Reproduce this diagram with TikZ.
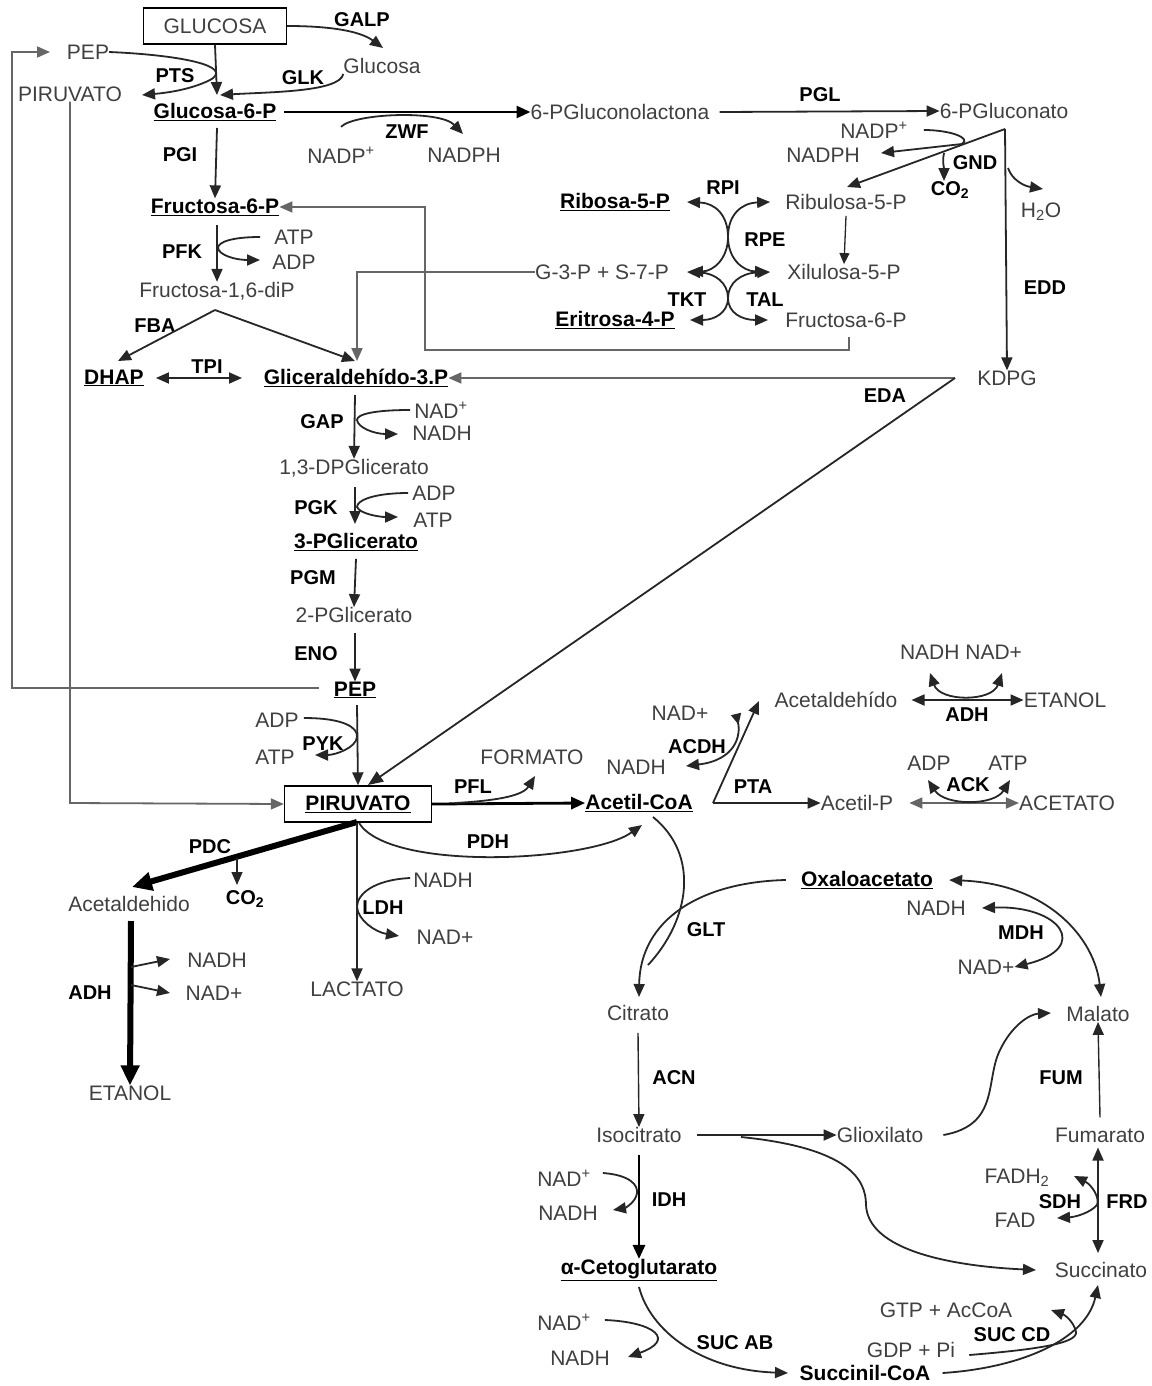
\documentclass[tikz,border=0pt]{standalone}
\usepackage{fontspec}
\setmainfont{Liberation Sans}
\usetikzlibrary{arrows.meta}
\begin{document}
\begin{tikzpicture}[x=1pt,y=-1pt,
 met/.style={font=\fontsize{21}{24}\selectfont, text=black!75, inner sep=0pt},
 metb/.style={font=\fontsize{21}{24}\selectfont\bfseries, text=black, inner sep=0pt},
 enz/.style={font=\fontsize{20}{24}\selectfont\bfseries, text=black, inner sep=0pt},
 ln/.style={line width=1.8pt, draw=black!85},
 ar/.style={ln, -{Triangle[length=13pt,width=11pt]}},
 dar/.style={ln, {Triangle[length=13pt,width=11pt]}-{Triangle[length=13pt,width=11pt]}},
 rar/.style={ln, {Triangle[length=11pt,width=10pt,reversed]}-{Triangle[length=13pt,width=11pt]}},
 gl/.style={line width=1.8pt, draw=black!60},
 gar/.style={gl, -{Triangle[length=13pt,width=11pt]}},
 thk/.style={line width=2.8pt, draw=black, -{Triangle[length=14pt,width=12pt]}},
 fat/.style={line width=6pt, draw=black, -{Triangle[length=20pt,width=18pt]}},
 bx/.style={draw, line width=1.4pt}]
\useasboundingbox (0,0) rectangle (1151,1386);
\fill[white] (0,0) rectangle (1151,1386);

% ---------- top / glycolysis upper ----------
\node[met,bx,minimum width=143pt,minimum height=36pt] (glc) at (215,26) {GLUCOSA};
\node[enz] (galp) at (362,20) {GALP};
\node[met] (glcx) at (382,66) {Glucosa};
\node[met] (pep1) at (88,52) {PEP};
\node[met] (pir1) at (70,94) {PIRUVATO};
\node[enz] (pts) at (175,76) {PTS};
\node[enz] (glk) at (303,78) {GLK};
\node[metb] (g6p) at (215,112) {\underline{Glucosa-6-P}};
\node[met] (lact6) at (620,112) {6-PGluconolactona};
\node[enz] (pgl) at (820,95) {PGL};
\node[met] (pgn) at (1004,111) {6-PGluconato};
\node[enz] (zwf) at (407,132) {ZWF};
\node[met] (nadp1) at (341,155) {NADP\textsuperscript{+}};
\node[met] (nadph1) at (464,155) {NADPH};
\node[enz] (pgi) at (180,155) {PGI};
\node[metb] (f6p) at (215,207) {\underline{Fructosa-6-P}};
\node[enz] (pfk) at (182,252) {PFK};
\node[met] (atp1) at (294,237) {ATP};
\node[met] (adp1) at (294,262) {ADP};
\node[met] (fbp) at (217,291) {Fructosa-1,6-diP};
\node[enz] (fba) at (155,326) {FBA};
\node[metb] (dhap) at (114,378) {\underline{DHAP}};
\node[enz] (tpi) at (207,367) {TPI};
\node[metb] (gap) at (356,378) {\underline{Gliceraldehído-3.P}};
\node[enz] (eda) at (885,396) {EDA};
\node[met] (kdpg) at (1007,378) {KDPG};

% ---------- pentose phosphate ----------
\node[metb] (r5p) at (615,202) {\underline{Ribosa-5-P}};
\node[enz] (rpi) at (723,188) {RPI};
\node[met] (ru5p) at (846,202) {Ribulosa-5-P};
\node[enz] (rpe) at (765,240) {RPE};
\node[met] (gs) at (602,272) {G-3-P + S-7-P};
\node[met] (x5p) at (844,272) {Xilulosa-5-P};
\node[enz] (tkt) at (687,300) {TKT};
\node[enz] (tal) at (765,300) {TAL};
\node[metb] (e4p) at (615,320) {\underline{Eritrosa-4-P}};
\node[met] (f6pb) at (846,320) {Fructosa-6-P};
\node[met] (nadp2) at (874,130) {NADP\textsuperscript{+}};
\node[met] (nadph2) at (823,155) {NADPH};
\node[enz] (gnd) at (975,163) {GND};
\node[enz] (co2a) at (950,190) {CO\textsubscript{2}};
\node[met] (h2o) at (1041,212) {H\textsubscript{2}O};
\node[enz] (edd) at (1045,288) {EDD};

% ---------- glycolysis lower ----------
\node[enz] (gapz) at (322,422) {GAP};
\node[met] (nad1) at (441,410) {NAD\textsuperscript{+}};
\node[met] (nadh1) at (442,433) {NADH};
\node[met] (dpg) at (354,468) {1,3-DPGlicerato};
\node[enz] (pgk) at (316,508) {PGK};
\node[met] (adp2) at (434,493) {ADP};
\node[met] (atp2) at (433,520) {ATP};
\node[metb] (pg3) at (356,542) {\underline{3-PGlicerato}};
\node[enz] (pgm) at (313,578) {PGM};
\node[met] (pg2) at (354,615) {2-PGlicerato};
\node[enz] (eno) at (316,654) {ENO};
\node[metb] (pep2) at (355,690) {\underline{PEP}};
\node[met] (adp3) at (277,720) {ADP};
\node[enz] (pyk) at (323,744) {PYK};
\node[met] (atp3) at (275,757) {ATP};
\node[metb,bx,minimum width=147pt,minimum height=36pt] (pir) at (358,804) {\underline{PIRUVATO}};
\node[met] (form) at (532,757) {FORMATO};
\node[enz] (pfl) at (473,787) {PFL};
\node[enz] (pdh) at (488,842) {PDH};
\node[enz] (pdc) at (210,847) {PDC};
\node[met] (acald) at (129,904) {Acetaldehido};
\node[enz] (co2b) at (245,899) {CO\textsubscript{2}};
\node[met] (nadh3) at (443,880) {NADH};
\node[enz] (ldh) at (383,908) {LDH};
\node[met] (nad3) at (445,937) {NAD+};
\node[met] (nadh4) at (217,960) {NADH};
\node[met] (nad4) at (214,993) {NAD+};
\node[enz] (adh1) at (90,993) {ADH};
\node[met] (lac) at (357,989) {LACTATO};
\node[met] (etoh1) at (130,1093) {ETANOL};

% ---------- acetyl branch ----------
\node[met] (nn) at (961,652) {NADH NAD+};
\node[met] (acald2) at (836,700) {Acetaldehído};
\node[met] (etoh2) at (1065,700) {ETANOL};
\node[enz] (adh2) at (967,715) {ADH};
\node[met] (nad5) at (680,713) {NAD+};
\node[enz] (acdh) at (697,747) {ACDH};
\node[met] (nadh5) at (636,767) {NADH};
\node[enz] (pta) at (753,787) {PTA};
\node[metb] (accoa) at (639,803) {\underline{Acetil-CoA}};
\node[met] (acp) at (857,803) {Acetil-P};
\node[met] (adp4) at (929,763) {ADP};
\node[met] (atp4) at (1008,763) {ATP};
\node[enz] (ack) at (968,785) {ACK};
\node[met] (acet) at (1067,803) {ACETATO};

% ---------- TCA ----------
\node[metb] (oaa) at (867,880) {\underline{Oxaloacetato}};
\node[met] (nadh6) at (936,908) {NADH};
\node[enz] (glt) at (706,930) {GLT};
\node[enz] (mdh) at (1021,933) {MDH};
\node[met] (nad6) at (986,967) {NAD+};
\node[met] (cit) at (638,1013) {Citrato};
\node[met] (mal) at (1098,1014) {Malato};
\node[enz] (acn) at (674,1078) {ACN};
\node[enz] (fum) at (1061,1078) {FUM};
\node[met] (icit) at (639,1135) {Isocitrato};
\node[met] (glx) at (880,1135) {Glioxilato};
\node[met] (fumt) at (1100,1135) {Fumarato};
\node[met] (nad7) at (564,1178) {NAD\textsuperscript{+}};
\node[enz] (idh) at (669,1200) {IDH};
\node[met] (nadh7) at (568,1213) {NADH};
\node[metb] (akg) at (639,1270) {\underline{α-Cetoglutarato}};
\node[met] (fadh) at (1017,1178) {FADH\textsubscript{2}};
\node[enz] (sdh) at (1060,1202) {SDH};
\node[enz] (frd) at (1127,1202) {FRD};
\node[met] (fad) at (1015,1220) {FAD};
\node[met] (succ) at (1101,1270) {Succinato};
\node[met] (nad8) at (564,1322) {NAD\textsuperscript{+}};
\node[met] (nadh8) at (580,1358) {NADH};
\node[enz] (sucab) at (735,1343) {SUC AB};
\node[met] (gtp) at (946,1310) {GTP + AcCoA};
\node[enz] (sucd) at (1012,1335) {SUC CD};
\node[met] (gdp) at (911,1350) {GDP + Pi};
\node[metb] (sucoa) at (865,1373) {Succinil-CoA};

% ================= connectors =================
% glucose uptake
\draw[ar] (glc.south) -- (217,95);
\draw[ar] (glc.east) .. controls (330,26) and (360,31) .. (383,48);
\draw[ar] (glcx.south west) .. controls (340,92) and (270,92) .. (220,95);
\draw[ar] (pep1.east) .. controls (180,55) and (235,66) .. (210,80) .. controls (190,90) and (165,93) .. (142,95);
% ZWF
\draw[thk] (g6p.east) ++(8,0) -- (lact6.west);
\draw[ar] (nadp1.north) ++(0,-20) .. controls (355,113) and (440,110) .. (463,134);
% PGI, PFK
\draw[ar] (217,128) -- (f6p.north);
\draw[ar] (217,225) -- (fbp.north);
\draw[ar] (atp1.west) ++(-14,0) .. controls (232,237) and (218,242) .. (218,248) .. controls (219,255) and (235,260) .. (260,260);
% FBA, TPI
\draw[ar] (215,310) -- (118,361);
\draw[ar] (215,310) -- (355,361);
\draw[dar] (dhap.east) ++(12,0) -- (242,378);
% feedback lines
\draw[gar] (849,337) -- (849,350) -- (425,350) -- (425,207) -- (f6p.east);
\draw[gar] (gs.west) -- (357,272) -- (357,361);
\draw[gar] (955,378) -- (gap.east);
\draw[ln, -{Triangle[length=15pt,width=12pt]}] (955,378) -- (368,785);
\draw[gar] (pep2.west) ++(-15,-2) -- (12,688) -- (12,52) -- (50,52);
\draw[gar] (pir1.south) -- (70,803) -- (pir.west);
% PGL, GND, EDD
\draw[ar] (lact6.east) ++(10,0) -- (pgn.west);
\draw[ar] (1005,129) -- (847,187);
\draw[ar] (nadp2.east) ++(16,0) .. controls (950,130) and (972,138) .. (962,144) -- (881,153);
\draw[ar] (944,153) .. controls (942,160) and (944,168) .. (944,181);
\draw[ar] (1005,129) -- (kdpg.north);
\draw[ar] (1008,168) .. controls (1012,180) and (1024,186) .. (1043,189);
% pentose X
\draw[ln, -{Triangle[length=11pt,width=10pt]}, line width=1.3pt] (ru5p.south) ++(0,6) -- (x5p.north);
\draw[dar] (r5p.east) ++(17,0) .. controls (715,203) and (728,215) .. (728,237) .. controls (728,258) and (742,271) .. (768,272);
\draw[dar] (ru5p.west) ++(-15,0) .. controls (741,203) and (728,215) .. (728,237) .. controls (728,258) and (714,271) .. (690,272);
\draw[dar] (gs.east) ++(18,0) .. controls (715,273) and (728,283) .. (728,298) .. controls (728,313) and (742,320) .. (768,320);
\draw[dar] (x5p.west) ++(-17,0) .. controls (741,273) and (728,283) .. (728,298) .. controls (728,313) and (714,320) .. (690,320);
% glycolysis lower
\draw[ar] (355,395) -- (dpg.north);
\draw[ar] (nad1.west) ++(-4,0) .. controls (375,410) and (357,414) .. (357,420) .. controls (358,428) and (375,434) .. (398,434);
\draw[ar] (355,487) -- (355,524);
\draw[ar] (adp2.west) ++(-4,0) .. controls (375,493) and (357,500) .. (357,507) .. controls (360,514) and (380,517) .. (398,517);
\draw[ar] (pg3.south) ++(0,8) -- (pg2.north);
\draw[ar] (355,633) -- (pep2.north);
\draw[ar] (357,705) -- (pir.north);
\draw[ar] (adp3.east) ++(5,-2) .. controls (345,718) and (358,728) .. (357,737) .. controls (356,748) and (335,755) .. (315,755);
% pyruvate branches
\draw[thk] (pir.east) -- (accoa.west);
\draw[ar] (455,803) .. controls (490,801) and (522,797) .. (535,776);
\draw[ar] (359,823) .. controls (390,872) and (590,862) .. (642,825);
\draw[fat] (357,822) -- (132,887);
\draw[ar, line width=1.3pt] (237,858) -- (237,885);
\draw[ar] (357,823) -- (lac.north);
\draw[ar] (nadh3.west) ++(-3,-2) .. controls (372,880) and (357,895) .. (357,907) .. controls (358,920) and (375,932) .. (399,936);
\draw[fat] (131,921) -- (etoh1.north);
\draw[ar] (131,967) -- (170,959);
\draw[ar] (131,985) -- (170,993);
% acetyl branch
\draw[dar] (acald2.east) ++(14,0) -- (etoh2.west);
\draw[dar] (930,673) .. controls (940,702) and (992,702) .. (1002,673);
\draw[dar, draw=black!60] (acp.east) ++(16,0) -- (acet.west);
\draw[dar] (928,780) .. controls (945,806) and (994,806) .. (1010,780);
\draw[ar] (713,803) -- (acp.west);
\draw[ar] (713,803) -- (759,701);
\draw[rar] (736,714) .. controls (741,735) and (736,760) .. (686,766);
% TCA
\draw[ln] (653,817) .. controls (700,855) and (690,920) .. (648,965);
\draw[ar] (oaa.west) ++(-15,0) .. controls (700,882) and (640,920) .. (639,997);
\draw[dar] (oaa.east) ++(16,0) .. controls (1050,884) and (1095,940) .. (1101,997);
\draw[dar] (nadh6.east) ++(16,0) .. controls (1060,905) and (1092,948) .. (nad6.east);
\draw[ar, line width=1.4pt] (cit.south) ++(0,12) -- (icit.north);
\draw[ar, line width=1.4pt] (fumt.north) ++(0,-10) -- (mal.south);
\draw[ar] (glx.east) ++(20,0) .. controls (1000,1125) and (985,1080) .. (1000,1050) .. controls (1012,1025) and (1030,1014) .. (1051,1013);
\draw[ar] (icit.east) ++(15,0) -- (glx.west);
\draw[ar] (741,1137) .. controls (850,1148) and (866,1180) .. (866,1205) .. controls (868,1250) and (950,1266) .. (1036,1270);
\draw[thk] (icit.south) ++(0,12) -- (akg.north);
\draw[ar] (nad7.east) ++(12,-5) .. controls (630,1175) and (638,1185) .. (637,1193) .. controls (636,1202) and (625,1208) .. (613,1210);
\draw[dar] (fumt.south) ++(-2,5) -- (1098,1253);
\draw[dar] (1074,1176) .. controls (1092,1185) and (1100,1198) .. (1097,1205) .. controls (1090,1213) and (1075,1217) .. (1057,1218);
\draw[ar] (639,1287) .. controls (650,1330) and (700,1370) .. (788,1373);
\draw[ar] (nad8.east) ++(14,-2) .. controls (655,1322) and (676,1340) .. (628,1357);
\draw[ar] (sucoa.east) ++(12,0) .. controls (1020,1368) and (1086,1340) .. (1098,1285);
\draw[ar] (gdp.east) ++(14,5) .. controls (1030,1350) and (1078,1344) .. (1076,1332) .. controls (1074,1322) and (1065,1315) .. (1051,1310);
\end{tikzpicture}
\end{document}
